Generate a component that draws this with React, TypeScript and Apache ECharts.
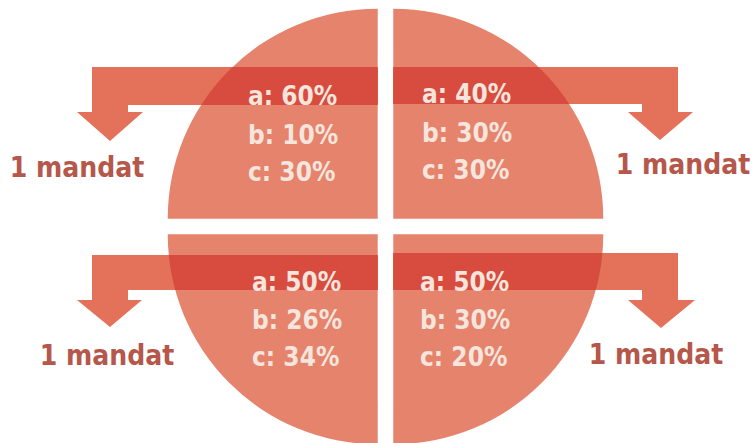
import React, { useEffect, useRef } from "react";
import * as echarts from "echarts";

// Quadrant order: top-left, top-right, bottom-left, bottom-right
const quadrants = ["top-left", "top-right", "bottom-left", "bottom-right"];
const partyNames = ["a", "b", "c"];
const shareA = [60, 40, 50, 50];
const shareB = [10, 30, 26, 30];
const shareC = [30, 30, 34, 20];
const mandates = [1, 1, 1, 1];
const mandateWord = "mandat";

const CX = 385.5;
const CY = 226.5;
const R = 210;
const OFFSET = 11;
const D = OFFSET / Math.SQRT2;

const CIRCLE_COLOR = "#E5836D";
const ARROW_COLOR = "#E4725A";
const BAND_DARK = "#D84C3F";
const TEXT_LIGHT = "#F6E5DC";
const MANDAT_COLOR = "#B5574A";
const FONT = "'DejaVu Sans Condensed', 'Liberation Sans Narrow', 'DejaVu Sans', sans-serif";

// signs for each quadrant (x, y)
const signs = [
  [-1, -1],
  [1, -1],
  [-1, 1],
  [1, 1],
];

const arrowShapes: number[][][] = [
  [[378, 67], [92, 67], [92, 112], [77, 112], [110, 141], [143, 112], [128, 112], [128, 105], [378, 105]],
  [[393, 67], [678, 67], [678, 112], [693, 112], [660, 140], [628, 112], [642, 112], [642, 104], [393, 104]],
  [[378, 255], [92, 255], [92, 300], [77, 300], [110, 327], [142, 300], [128, 300], [128, 290], [378, 290]],
  [[393, 253], [678, 253], [678, 300], [695, 300], [661, 328], [628, 300], [642, 300], [642, 290], [393, 290]],
];
const bandRanges = [
  [67, 105],
  [67, 104],
  [255, 290],
  [253, 290],
];
const textPos = [
  [248, [96, 135, 172]],
  [422, [94, 133, 170]],
  [252, [282, 320, 357]],
  [420, [282, 320, 357]],
] as [number, number[]][];
const mandatPos = [
  [77, 167],
  [683, 164],
  [107, 355],
  [656, 354],
];

function bandInside(q: number): number[][] {
  const [sx, sy] = signs[q];
  const cx = CX + sx * D;
  const cy = CY + sy * D;
  const [y1, y2] = bandRanges[q];
  const pts: number[][] = [[cx, y1]];
  const n = 24;
  for (let i = 0; i <= n; i++) {
    const y = y1 + ((y2 - y1) * i) / n;
    const dy = y - cy;
    const x = cx + sx * Math.sqrt(Math.max(0, R * R - dy * dy));
    pts.push([x, y]);
  }
  pts.push([cx, y2]);
  return pts;
}

export default function App() {
  const ref = useRef<HTMLDivElement>(null);
  useEffect(() => {
    if (!ref.current) return;
    const chart = echarts.init(ref.current, null, { renderer: "svg" });
    // pie order clockwise from 12 o'clock: TR, BR, BL, TL
    const pieOrder = [1, 3, 2, 0];
    const elements: any[] = [];
    quadrants.forEach((_, q) => {
      elements.push({
        type: "polygon",
        z: 10,
        shape: { points: arrowShapes[q] },
        style: { fill: ARROW_COLOR },
        silent: true,
      });
      elements.push({
        type: "polygon",
        z: 11,
        shape: { points: bandInside(q) },
        style: { fill: BAND_DARK },
        silent: true,
      });
      const shares = [shareA[q], shareB[q], shareC[q]];
      const [tx, tys] = textPos[q];
      shares.forEach((s, i) => {
        elements.push({
          type: "text",
          z: 20,
          x: tx,
          y: tys[i],
          silent: true,
          style: {
            text: `${partyNames[i]}: ${s}%`,
            fill: TEXT_LIGHT,
            font: `bold 26px ${FONT}`,
            align: "left",
            verticalAlign: "middle",
          },
        });
      });
      elements.push({
        type: "text",
        z: 20,
        x: mandatPos[q][0],
        y: mandatPos[q][1],
        silent: true,
        style: {
          text: `${mandates[q]} ${mandateWord}`,
          fill: MANDAT_COLOR,
          font: `bold 28px ${FONT}`,
          align: "center",
          verticalAlign: "middle",
        },
      });
    });
    chart.setOption({
      animation: false,
      backgroundColor: "#ffffff",
      series: [
        {
          type: "pie",
          z: 1,
          center: [CX, CY],
          radius: R,
          startAngle: 90,
          clockwise: true,
          selectedMode: "multiple",
          selectedOffset: OFFSET,
          silent: true,
          label: { show: false },
          labelLine: { show: false },
          itemStyle: { color: CIRCLE_COLOR, borderWidth: 0 },
          emphasis: { disabled: true },
          select: { itemStyle: { color: CIRCLE_COLOR, borderWidth: 0 } },
          data: pieOrder.map((q) => ({ name: quadrants[q], value: 1, selected: true })),
        },
      ],
      graphic: { elements },
    });
    return () => chart.dispose();
  }, []);
  return (
    <div
      ref={ref}
      style={{ position: "absolute", left: 0, top: 0, width: 753, height: 443, background: "#fff" }}
    />
  );
}
